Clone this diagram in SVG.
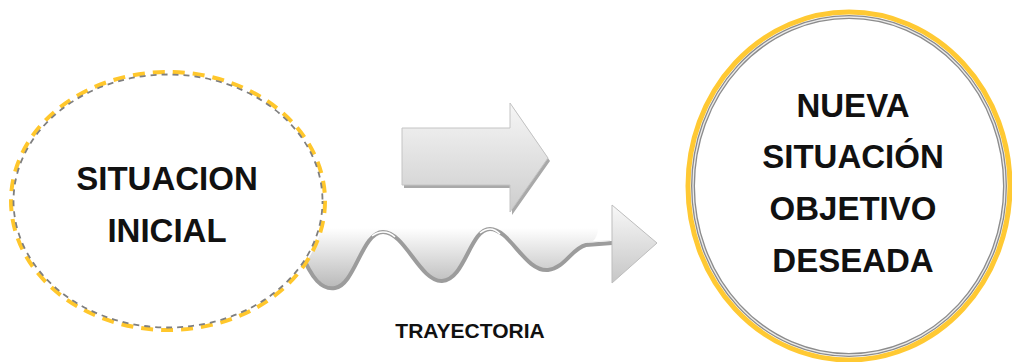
<svg xmlns="http://www.w3.org/2000/svg" width="1012" height="362" viewBox="0 0 1012 362">
<defs>
<linearGradient id="gArrow" x1="0" y1="0" x2="0" y2="1">
<stop offset="0" stop-color="#f6f6f6"/>
<stop offset="1" stop-color="#cdcdcd"/>
</linearGradient>
<linearGradient id="gBand" gradientUnits="userSpaceOnUse" x1="0" y1="228" x2="0" y2="292">
<stop offset="0" stop-color="#ffffff"/>
<stop offset="1" stop-color="#b4b4b4"/>
</linearGradient>
<linearGradient id="gTri" x1="0" y1="0" x2="0" y2="1">
<stop offset="0" stop-color="#f8f8f8"/>
<stop offset="1" stop-color="#c6c6c6"/>
</linearGradient>
<filter id="soft" x="-10%" y="-10%" width="130%" height="130%">
<feGaussianBlur stdDeviation="0.7"/>
</filter>
</defs>
<style>
.lbl{font-family:"Liberation Sans",Arial,sans-serif;font-weight:bold;fill:#111;text-anchor:middle}
.big{font-size:33px}
.small{font-size:21px}
</style>
<rect width="1012" height="362" fill="#ffffff"/>
<g id="connectors">
<g id="arrow-straight">
<path d="M404,131 L512,131 L512,106 L550,161 L512,215 L512,188 L404,188 Z" fill="#a9a9a9" filter="url(#soft)"/>
<path d="M402,128 L510,128 L510,103 L548,158 L510,212 L510,185 L402,185 Z" fill="url(#gArrow)" stroke="#c4c4c4" stroke-width="1"/>
</g>
<g id="arrow-trayectoria">
<path d="M300,228 L300,255 C312,280 322,290 335,288 C355,285 362,232 383,232 C405,232 420,282 442,281 C465,280 470,229 490,229 C510,229 525,272 548,270 C565,268 572,248 586,245 C594,243 598,236 598,228 Z" fill="url(#gBand)"/>
<path d="M300,250 C312,280 322,290 335,288 C355,285 362,232 383,232 C405,232 420,282 442,281 C465,280 470,229 490,229 C510,229 525,272 548,270 C565,268 572,248 586,245 L612,243" fill="none" stroke="#9c9c9c" stroke-width="4" stroke-linecap="round" filter="url(#soft)"/>
<path d="M372,236 C376,233 380,232 383,232 C388,232 392,234 395,237" fill="none" stroke="#ffffff" stroke-width="1.5"/>
<path d="M480,233 C484,230 487,229 490,229 C494,229 497,231 500,234" fill="none" stroke="#ffffff" stroke-width="1.5"/>
<path d="M588,242 L610,240.5" fill="none" stroke="#ececec" stroke-width="1.2"/>
<path d="M612,205 L657,243 L612,283 Z" fill="url(#gTri)" stroke="#bdbdbd" stroke-width="1"/>
<path d="M614,208 L614,280" stroke="#b0b0b0" stroke-width="2" filter="url(#soft)"/>
</g>
<text class="lbl small" x="470" y="338">TRAYECTORIA</text>
</g>
<g id="node-inicial">
<ellipse cx="168" cy="201" rx="157" ry="129" fill="#ffffff" stroke="#ffc72c" stroke-width="4" stroke-dasharray="12 8"/>
<ellipse cx="168" cy="201" rx="154.5" ry="126.5" fill="none" stroke="#7f7f7f" stroke-width="1.8" stroke-dasharray="6 5" stroke-dashoffset="3"/>
<text class="lbl big" x="167" y="190">SITUACION</text>
<text class="lbl big" x="167" y="242">INICIAL</text>
</g>
<g id="node-nueva">
<ellipse cx="849" cy="186" rx="161" ry="174" fill="#ffffff" stroke="#ffc933" stroke-width="5"/>
<ellipse cx="849" cy="186" rx="156" ry="169" fill="none" stroke="#8c8c8c" stroke-width="4"/>
<ellipse cx="849" cy="186" rx="156" ry="169" fill="none" stroke="#ececec" stroke-width="1.3"/>
<text class="lbl big" x="853" y="117">NUEVA</text>
<text class="lbl big" x="853" y="168">SITUACIÓN</text>
<text class="lbl big" x="853" y="220">OBJETIVO</text>
<text class="lbl big" x="853" y="272">DESEADA</text>
</g>
</svg>
